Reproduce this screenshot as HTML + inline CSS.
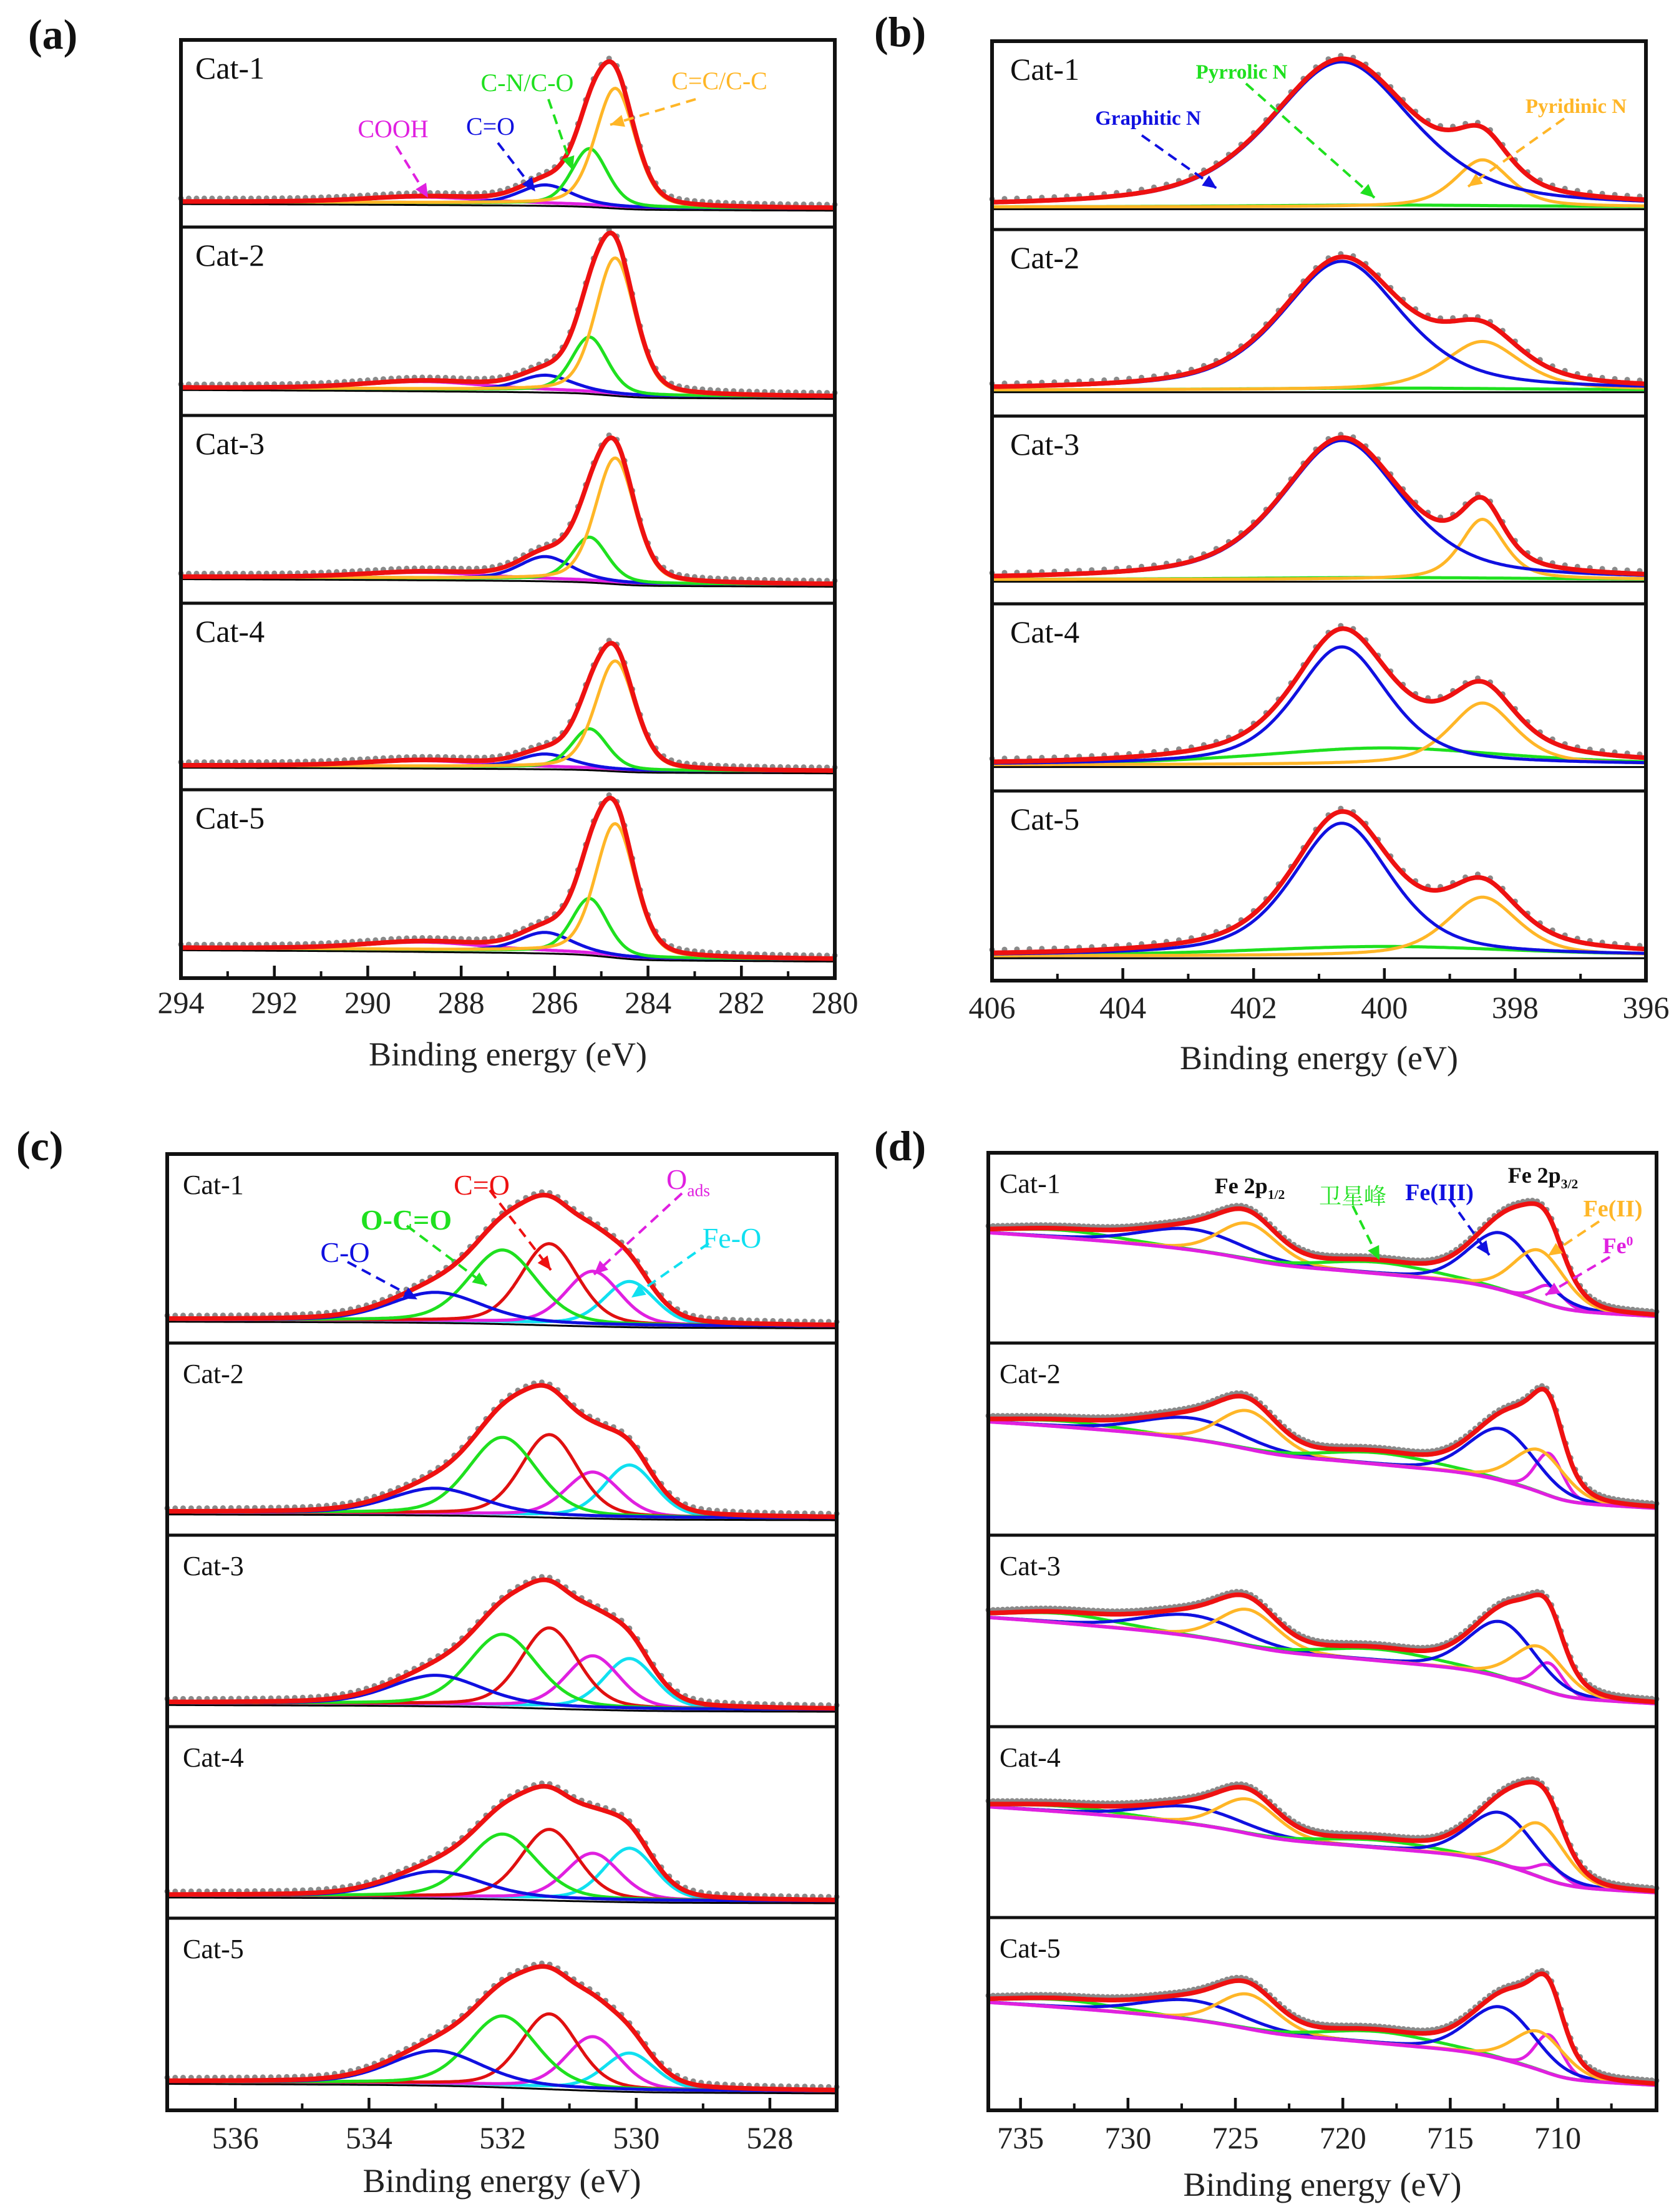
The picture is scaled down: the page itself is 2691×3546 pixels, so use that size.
<!DOCTYPE html>
<html><head><meta charset="utf-8">
<style>
html,body{margin:0;padding:0;background:#fff;}
svg{display:block;font-family:"Liberation Serif","Noto Serif CJK SC","Noto Sans CJK SC",serif;}
</style></head>
<body>
<svg id="fig" width="2691" height="3546" viewBox="0 0 2691 3546" xmlns="http://www.w3.org/2000/svg">
<rect width="2691" height="3546" fill="#fff"/>
</svg>
<script>
// ---------- DATA ----------
const sampleNames = ["Cat-1","Cat-2","Cat-3","Cat-4","Cat-5"];

// (a) C 1s
const aCenters = [284.7, 285.25, 286.2, 288.8];
const aWidths = [1.0, 0.9, 1.3, 3.0];
const aColors = ["#ffb627","#1fe01f","#1010e0","#e020e0"];
const aHeights = [[0.63,0.30,0.10,0.03],[0.72,0.29,0.08,0.04],[0.66,0.23,0.12,0.03],[0.58,0.21,0.07,0.03],[0.70,0.29,0.10,0.04]];
const aBase = [[0.135,0.10],[0.147,0.10],[0.14,0.10],[0.13,0.10],[0.16,0.10]];
const aTicks = [294,292,290,288,286,284,282,280];

// (b) N 1s
const bCenters = [400.65, 398.5, 400.0];
const bWidths = [[2.6,1.0,5],[2.2,1.4,5],[2.2,0.8,5],[1.7,1.2,4.5],[1.8,1.3,5]];
const bColors = ["#1010e0","#ffb627","#1fe01f"];
const bHeights = [[0.77,0.25,0.01],[0.69,0.26,0.01],[0.74,0.32,0.01],[0.63,0.33,0.09],[0.70,0.31,0.05]];
const bBase = [[0.12,0.12],[0.14,0.14],[0.13,0.13],[0.14,0.14],[0.13,0.13]];
const bTicks = [406,404,402,400,398,396];

// (c) O 1s
const cCenters = [533.0, 532.0, 531.3, 530.65, 530.1];
const cWidths = [1.6, 1.2, 1.0, 0.95, 0.9];
const cColors = ["#1010e0","#1fe01f","#e01010","#e020e0","#10e0f0"];
const cHeights = [[0.15,0.38,0.42,0.28,0.23],[0.13,0.40,0.42,0.23,0.27],[0.15,0.37,0.41,0.27,0.26],[0.13,0.33,0.36,0.24,0.27],[0.17,0.36,0.38,0.27,0.19]];
const cBase = [[0.125,0.09],[0.12,0.09],[0.125,0.09],[0.12,0.09],[0.15,0.10]];
const cTicks = [536,534,532,530,528];

// (d) Fe 2p
const dCenters = [710.85, 712.6, 710.4, 718.3, 724.4, 727.0, 733.0];
const dWidths = [2.8, 3.6, 1.5, 6, 3.2, 5.5, 6];
const dColors = ["#ffb627","#1010e0","#e020e0","#1fe01f","#ffb627","#1010e0","#1fe01f"];
const dHeights = [[0.27,0.30,0.10,0.06,0.19,0.11,0.04],[0.22,0.27,0.22,0.06,0.20,0.11,0.03],[0.22,0.29,0.15,0.06,0.19,0.11,0.05],[0.28,0.27,0.08,0.04,0.18,0.09,0.03],[0.20,0.27,0.20,0.06,0.18,0.10,0.04]];
const dBase = [[0.58,0.14],[0.59,0.14],[0.57,0.12],[0.58,0.13],[0.56,0.13]];
const dTicks = [735,730,725,720,715,710];

// ---------- DRAW ----------
const NS = "http://www.w3.org/2000/svg";
const svg = document.getElementById("fig");
function mk(tag, attrs, parent){
  const e = document.createElementNS(NS, tag);
  for (const k in attrs) e.setAttribute(k, attrs[k]);
  (parent||svg).appendChild(e);
  return e;
}
function pv(e, c, w, h, eta){
  const d = e - c;
  return h*((1-eta)*Math.exp(-4*Math.LN2*d*d/(w*w)) + eta/(1+4*d*d/(w*w)));
}

function drawPanel(p){
  const g = mk("g", {});
  
  
  const xs = e => p.x0 + (p.e0 - e)/(p.e0 - p.e1)*(p.x1 - p.x0);
  const N = 420;
  for (let s = 0; s < 5; s++){
    const top = p.tops[s], bot = p.tops[s+1], H = bot - top;
    const ys = f => bot - f*H;
    const sg = mk("g", {}, g);
    
    
    const heights = p.heights[s];
    const widths = Array.isArray(p.widths[0]) ? p.widths[s] : p.widths;
    const es = [], comp = [], tot = [];
    for (let i = 0; i <= N; i++){
      const e = p.e0 + (p.e1 - p.e0)*i/N;
      es.push(e);
      const vals = p.centers.map((c,k) => pv(e, c, widths[k], heights[k], p.eta));
      comp.push(vals);
      tot.push(vals.reduce((a,b)=>a+b,0));
    }
    const cum = new Array(N+1).fill(0);
    for (let i = N; i >= 0; i--) cum[i] = tot[i] + (i < N ? cum[i+1] : 0);
    const [L, R] = p.base[s];
    const bg = es.map((e,i) => {
      const lin = (e - p.e1)/(p.e0 - p.e1);
      const sh = cum[i]/cum[0];
      return R + (L - R)*(p.mix*lin + (1-p.mix)*sh);
    });
    const path = arr => arr.map((v,i)=>(i?"L":"M")+xs(es[i]).toFixed(1)+" "+ys(v).toFixed(1)).join(" ");
    const drawBase = () => {
      const bl = mk("path", {d: path(bg.map(v=>v-p.baseOff)), fill:"none", stroke:p.baseColor, "stroke-width":p.baseW}, sg);
      
      
    };
    if (!p.baseOnTop) drawBase();
    const dg = mk("g", {fill:"#8a8a8a"}, sg);
    
    
    for (let i = 0; i <= N; i += p.dotStep){
      mk("circle", {cx: xs(es[i]).toFixed(1), cy: (ys(bg[i]+tot[i]) - 5).toFixed(1), r: 4.5}, dg);
    }
    const order = p.centers.map((c,k)=>k).reverse();
    for (const k of order){
      const pc = mk("path", {d: path(bg.map((b,i)=>b+comp[i][k])), fill:"none", stroke:p.colors[k], "stroke-width":5, "stroke-linejoin":"round"}, sg);
      
      
    }
    if (p.baseOnTop) drawBase();
    const env = mk("path", {d: path(bg.map((b,i)=>b+tot[i])), fill:"none", stroke:"#ee1111", "stroke-width":7.5, "stroke-linejoin":"round"}, sg);
    
    
    const lab = mk("text", {x:p.labX, y: top + p.labDy, "font-size":p.labFs, fill:"#111"}, sg);
    lab.textContent = sampleNames[s];
    
    
    if (s > 0){
      const sep = mk("line", {x1:p.x0, x2:p.x1, y1:top, y2:top, stroke:"#111", "stroke-width":5}, sg);
      
      
    }
  }
  const fr = mk("rect", {x:p.x0, y:p.tops[0], width:p.x1-p.x0, height:p.tops[5]-p.tops[0], fill:"none", stroke:"#111", "stroke-width":6}, g);
  
  
  const bottom = p.tops[5];
  const ag = mk("g", {}, g);
  
  
  const step = p.ticks[0] - p.ticks[1];
  for (let t = 0; t < p.ticks.length; t++){
    const v = p.ticks[t];
    const tk = mk("line", {x1:xs(v), x2:xs(v), y1:bottom, y2:bottom-20, stroke:"#111", "stroke-width":4.5}, ag);
    
    
    const m = v - step/2;
    if (m > Math.min(p.e0,p.e1) && m < Math.max(p.e0,p.e1)){
      const mt = mk("line", {x1:xs(m), x2:xs(m), y1:bottom, y2:bottom-11, stroke:"#111", "stroke-width":4}, ag);
      
      
    }
    const tl = mk("text", {x:xs(v), y:p.tickY, "font-size":50, "text-anchor":"middle", fill:"#222"}, ag);
    tl.textContent = v;
    
    
  }
  const at = mk("text", {x:(p.x0+p.x1)/2, y:p.titleY, "font-size":54, "text-anchor":"middle", fill:"#222"}, g);
  at.textContent = "Binding energy (eV)";
  
  
  const pl = mk("text", {x:p.letterX, y:p.letterY, "font-size":68, "font-weight":"bold", fill:"#111"}, g);
  pl.textContent = p.letter;
  
  
}

drawPanel({name:"panel-a-c1s", key:"a", x0:290, x1:1338, e0:294, e1:280, tops:[64,364,666,967,1266,1568],
  centers:aCenters, widths:aWidths, colors:aColors, heights:aHeights, base:aBase, ticks:aTicks, eta:0.3, mix:0.3, dotStep:5,
  baseColor:"#000", baseW:3, baseOff:0.012, baseOnTop:false,
  labX:313, labDy:62, labFs:50, tickY:1624, titleY:1708, letter:"(a)", letterX:45, letterY:78});
drawPanel({name:"panel-b-n1s", key:"b", x0:1590, x1:2638, e0:406, e1:396, tops:[66,368,667,968,1268,1572],
  centers:bCenters, widths:bWidths, colors:bColors, heights:bHeights, base:bBase, ticks:bTicks, eta:0.55, mix:0.5, dotStep:8,
  baseColor:"#000", baseW:3, baseOff:0.012, baseOnTop:false,
  labX:1619, labDy:62, labFs:50, tickY:1632, titleY:1714, letter:"(b)", letterX:1401, letterY:74});
drawPanel({name:"panel-c-o1s", key:"c", x0:268, x1:1341, e0:537.02, e1:527.0, tops:[1850,2153,2461,2768,3075,3383],
  centers:cCenters, widths:cWidths, colors:cColors, heights:cHeights, base:cBase, ticks:cTicks, eta:0.25, mix:0.3, dotStep:5,
  baseColor:"#000", baseW:3, baseOff:0.012, baseOnTop:false,
  labX:293, labDy:64, labFs:44, tickY:3444, titleY:3514, letter:"(c)", letterX:26, letterY:1860});
drawPanel({name:"panel-d-fe2p", key:"d", x0:1584, x1:2655, e0:736.5, e1:705.4, tops:[1848,2153,2461,2768,3074,3383],
  centers:dCenters, widths:dWidths, colors:dColors, heights:dHeights, base:dBase, ticks:dTicks, eta:0.2, mix:0.4, dotStep:3,
  baseColor:"#e020e0", baseW:5.5, baseOff:0, baseOnTop:true,
  labX:1602, labDy:64, labFs:44, tickY:3444, titleY:3520, letter:"(d)", letterX:1401, letterY:1860});

// ---------- ANNOTATIONS ----------
const ann = [
  ["C-N/C-O","#1fe01f",845,146,40,false,879,159,918,273,"label-c-n"],
  ["C=C/C-C","#ffb627",1153,143,40,false,1115,159,978,200,"label-c-c"],
  ["COOH","#e020e0",630,220,40,false,635,234,686,317,"label-cooh"],
  ["C=O","#1010e0",786,216,40,false,798,229,858,307,"label-c-o-a"],
  ["Graphitic N","#1010e0",1840,200,33,true,1830,217,1950,302,"label-graphitic-n"],
  ["Pyrrolic N","#1fe01f",1990,126,33,true,1997,134,2203,317,"label-pyrrolic-n"],
  ["Pyridinic N","#ffb627",2526,181,33,true,2507,190,2353,299,"label-pyridinic-n"],
  ["C=O","#ee1111",772,1915,46,false,785,1908,883,2036,"label-c-o-c"],
  ["O-C=O","#1fe01f",651,1971,46,true,652,1965,780,2061,"label-o-c-o"],
  ["C-O","#1010e0",553,2023,46,false,557,2023,669,2083,"label-c-o-single"],
  ["Fe-O","#10e0f0",1173,2000,46,false,1136,1993,1012,2080,"label-fe-o"],
  ["卫星峰","#1fe01f",2168,1930,36,false,2168,1933,2211,2020,"label-satellite"],
  ["Fe(III)","#1010e0",2307,1924,38,true,2323,1922,2387,2012,"label-fe3"],
  ["Fe(II)","#ffb627",2585,1950,38,true,2563,1958,2481,2013,"label-fe2"]
];
for (const a of ann){
  const t = mk("text", {x:a[2], y:a[3], "font-size":a[4], "text-anchor":"middle", fill:a[1], "font-weight":a[5]?"bold":"normal"});
  t.textContent = a[0];
  
  
  const ln = mk("line", {x1:a[6], y1:a[7], x2:a[8], y2:a[9], stroke:a[1], "stroke-width":4, "stroke-dasharray":"16 10"});
  
  
  const ang = Math.atan2(a[9]-a[7], a[8]-a[6]);
  const L = 22, W = 10;
  const bx = a[8]-L*Math.cos(ang), by = a[9]-L*Math.sin(ang);
  const hd = mk("polygon", {points: `${a[8]},${a[9]} ${bx - W*Math.sin(ang)},${by + W*Math.cos(ang)} ${bx + W*Math.sin(ang)},${by - W*Math.cos(ang)}`, fill:a[1]});
  
  
}
function subLabel(x, y, main, sub, color, fs, bold, sup, name){
  const t = mk("text", {x:x, y:y, "font-size":fs, fill:color, "font-weight":bold?"bold":"normal", "text-anchor":"middle"});
  
  
  const t1 = mk("tspan", {}, t); t1.textContent = main;
  const t2 = mk("tspan", {"font-size":fs*0.6, dy: sup ? -fs*0.35 : fs*0.25}, t); t2.textContent = sub;
}
subLabel(1103, 1906, "O", "ads", "#e020e0", 46, false, false, "label-o-ads");
subLabel(2003, 1913, "Fe 2p", "1/2", "#111", 36, true, false, "label-fe-2p12");
subLabel(2473, 1896, "Fe 2p", "3/2", "#111", 36, true, false, "label-fe-2p32");
subLabel(2593, 2009, "Fe", "0", "#e020e0", 36, true, true, "label-fe0");
(function(){
  const pts = [[1093,1913,952,2043,"#e020e0"],[2580,2015,2477,2076,"#e020e0"]];
  for (const a of pts){
    const ln = mk("line", {x1:a[0], y1:a[1], x2:a[2], y2:a[3], stroke:a[4], "stroke-width":4, "stroke-dasharray":"16 10"});
    
    
    const ang = Math.atan2(a[3]-a[1], a[2]-a[0]);
    const bx = a[2]-22*Math.cos(ang), by = a[3]-22*Math.sin(ang);
    const hd = mk("polygon", {points:`${a[2]},${a[3]} ${bx-10*Math.sin(ang)},${by+10*Math.cos(ang)} ${bx+10*Math.sin(ang)},${by-10*Math.cos(ang)}`, fill:a[4]});
    
    
  }
})();
</script>
</body></html>
